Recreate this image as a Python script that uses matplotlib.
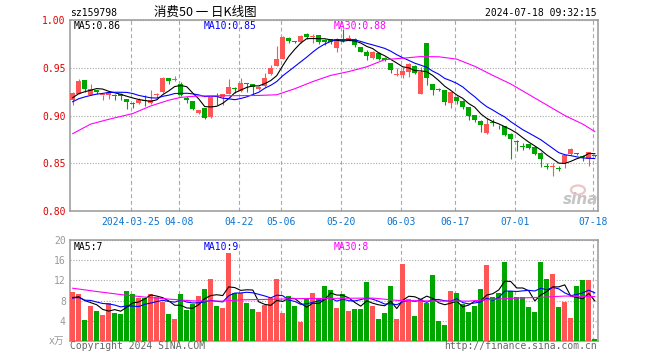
import matplotlib.pyplot as plt
import numpy as np
from matplotlib.patches import Ellipse

plt.rcParams["font.family"] = ["DejaVu Sans Mono", "Noto Sans CJK SC"]

# daily K-line of sz159798 (消费50)
date_labels = ["2024-03-25", "04-08", "04-22", "05-06", "05-20", "06-03", "06-17", "07-01", "07-18"]
date_pos = [10, 18, 28, 35, 45, 55, 64, 74, 87]

open_ = [0.9160, 0.9230, 0.9369, 0.9215, 0.9262, 0.9212, 0.9210, 0.9215, 0.9228, 0.9168,
         0.9130, 0.9133, 0.9158, 0.9134, 0.9215, 0.9249, 0.9389, 0.9375, 0.9326, 0.9186,
         0.9150, 0.9028, 0.9074, 0.8986, 0.9208, 0.9193, 0.9228, 0.9285, 0.9256, 0.9340,
         0.9326, 0.9274, 0.9310, 0.9430, 0.9520, 0.9596, 0.9815, 0.9775, 0.9770, 0.9850,
         0.9825, 0.9838, 0.9790, 0.9800, 0.9705, 0.9805, 0.9800, 0.9806, 0.9718, 0.9670,
         0.9605, 0.9650, 0.9598, 0.9547, 0.9425, 0.9423, 0.9460, 0.9515, 0.9230, 0.9758,
         0.9326, 0.9275, 0.9263, 0.9133, 0.9193, 0.9150, 0.9088, 0.9003, 0.8947, 0.8814,
         0.8925, 0.8895, 0.8889, 0.8810, 0.8735, 0.8680, 0.8698, 0.8670, 0.8610, 0.8465,
         0.8460, 0.8442, 0.8500, 0.8594, 0.8605, 0.8567, 0.8540, 0.8577]
high = [0.9250, 0.9378, 0.9372, 0.9335, 0.9270, 0.9217, 0.9260, 0.9228, 0.9232, 0.9170,
        0.9145, 0.9180, 0.9210, 0.9263, 0.9235, 0.9403, 0.9392, 0.9415, 0.9354, 0.9200,
        0.9155, 0.9060, 0.9080, 0.9195, 0.9235, 0.9225, 0.9386, 0.9295, 0.9388, 0.9345,
        0.9330, 0.9310, 0.9450, 0.9530, 0.9730, 0.9830, 0.9820, 0.9780, 0.9840, 0.9865,
        0.9853, 0.9840, 0.9800, 0.9805, 0.9810, 0.9905, 0.9840, 0.9810, 0.9720, 0.9690,
        0.9675, 0.9660, 0.9608, 0.9550, 0.9500, 0.9508, 0.9550, 0.9526, 0.9510, 0.9760,
        0.9330, 0.9285, 0.9265, 0.9250, 0.9200, 0.9160, 0.9090, 0.9010, 0.8950, 0.8976,
        0.8965, 0.8905, 0.8890, 0.8815, 0.8740, 0.8710, 0.8700, 0.8670, 0.8620, 0.8507,
        0.8507, 0.8472, 0.8590, 0.8663, 0.8610, 0.8587, 0.8620, 0.8587]
low = [0.9115, 0.9220, 0.9246, 0.9210, 0.9220, 0.9158, 0.9170, 0.9165, 0.9165, 0.9070,
       0.9080, 0.9120, 0.9100, 0.9123, 0.9180, 0.9240, 0.9326, 0.9360, 0.9200, 0.9133,
       0.9060, 0.9020, 0.8965, 0.8970, 0.9110, 0.9115, 0.9225, 0.9240, 0.9250, 0.9250,
       0.9220, 0.9265, 0.9300, 0.9425, 0.9515, 0.9590, 0.9760, 0.9760, 0.9760, 0.9800,
       0.9755, 0.9750, 0.9740, 0.9750, 0.9660, 0.9765, 0.9780, 0.9720, 0.9660, 0.9585,
       0.9590, 0.9580, 0.9575, 0.9450, 0.9415, 0.9397, 0.9403, 0.9430, 0.9220, 0.9320,
       0.9214, 0.9260, 0.9110, 0.9080, 0.9116, 0.9070, 0.8957, 0.8930, 0.8825, 0.8805,
       0.8890, 0.8855, 0.8785, 0.8540, 0.8628, 0.8640, 0.8650, 0.8583, 0.8460, 0.8437,
       0.8368, 0.8420, 0.8455, 0.8590, 0.8585, 0.8524, 0.8472, 0.8562]
close = [0.9240, 0.9362, 0.9281, 0.9281, 0.9245, 0.9215, 0.9245, 0.9205, 0.9200, 0.9144,
         0.9125, 0.9165, 0.9150, 0.9158, 0.9222, 0.9396, 0.9361, 0.9380, 0.9211, 0.9161,
         0.9063, 0.9056, 0.8975, 0.9193, 0.9195, 0.9220, 0.9300, 0.9280, 0.9337, 0.9333,
         0.9300, 0.9300, 0.9397, 0.9500, 0.9590, 0.9824, 0.9780, 0.9770, 0.9830, 0.9820,
         0.9830, 0.9770, 0.9770, 0.9770, 0.9800, 0.9780, 0.9815, 0.9736, 0.9666, 0.9620,
         0.9665, 0.9590, 0.9585, 0.9477, 0.9430, 0.9467, 0.9537, 0.9440, 0.9460, 0.9390,
         0.9267, 0.9272, 0.9140, 0.9245, 0.9150, 0.9088, 0.9000, 0.8950, 0.8898, 0.8912,
         0.8918, 0.8885, 0.8800, 0.8750, 0.8725, 0.8675, 0.8656, 0.8600, 0.8542, 0.8462,
         0.8465, 0.8437, 0.8585, 0.8650, 0.8600, 0.8563, 0.8615, 0.8573]
volume = [9.7, 9.3, 4.1, 6.9, 5.9, 5.1, 7.6, 5.6, 5.3, 9.9,
          9.3, 8.5, 8.6, 9.3, 8.8, 7.7, 5.3, 4.3, 9.3, 6.1,
          7.4, 8.9, 10.3, 12.3, 6.9, 6.6, 17.5, 9.6, 9.5, 7.5,
          6.4, 5.8, 7.1, 8.5, 12.3, 5.5, 8.9, 6.9, 3.7, 8.5,
          9.5, 8.5, 10.9, 10.1, 6.5, 9.3, 5.9, 6.4, 6.4, 11.7,
          7.0, 4.3, 5.5, 10.9, 4.4, 15.2, 8.3, 5.0, 8.3, 7.6,
          13.0, 3.9, 3.1, 9.9, 9.5, 7.4, 5.7, 7.0, 10.3, 15.1,
          8.7, 9.5, 15.7, 9.9, 8.7, 8.7, 6.7, 5.7, 15.7, 12.2,
          13.3, 6.7, 7.7, 4.5, 10.9, 12.0, 12.0, 0.3]

# sessions just before the first visible bar (needed to start MA5 / MA10)
pre_close = [0.905, 0.909, 0.912, 0.911, 0.914, 0.915, 0.918, 0.920, 0.916]
pre_volume = [8.0, 9.5, 7.5, 9.0, 8.0, 8.5, 7.8, 9.0, 8.0]

# MA30 curves at these bar positions
ma30_pos = [0, 3, 6, 8, 10, 13, 16, 18, 21, 26, 31, 34, 37, 40, 43, 46, 49, 52, 55,
            58, 61, 64, 67, 70, 73, 76, 79, 82, 85, 87]
ma30_val = [0.881, 0.891, 0.896, 0.899, 0.902, 0.910, 0.916, 0.919, 0.9205, 0.9207,
            0.921, 0.9217, 0.928, 0.9355, 0.942, 0.946, 0.951, 0.9585, 0.960, 0.9617,
            0.9615, 0.959, 0.9515, 0.942, 0.933, 0.922, 0.911, 0.900, 0.891, 0.8832]
vma30_pos = [0, 4, 8, 12, 16, 20, 25, 28, 33, 38, 44, 50, 54, 58, 62, 66, 70, 74, 78, 82, 87]
vma30_val = [10.45, 9.8, 9.2, 8.7, 8.3, 7.95, 7.9, 8.15, 8.25, 8.4, 8.45, 8.5, 8.05,
             7.95, 7.9, 7.9, 8.25, 8.5, 8.65, 8.9, 8.8]


def rolling_mean(prev, values, n):
    s = np.concatenate([prev, values])
    m = np.convolve(s, np.ones(n) / n, mode="valid")
    return m[-len(values):]


RED = "#ff5555"
GREEN = "#00a600"
GRID = "#a8a8a8"
W, H = 660, 360


def box(x0, y0, x1, y1):
    return [x0 / W, 1 - y1 / H, (x1 - x0) / W, (y1 - y0) / H]


fig = plt.figure(figsize=(W / 100, H / 100), dpi=100)
ax = fig.add_axes(box(70, 20, 597.5, 211))
axv = fig.add_axes(box(70, 240, 597.5, 341))

x = np.arange(len(close))
o, h, l, c = (np.array(v) for v in (open_, high, low, close))
cols = np.where(c >= o, RED, GREEN)

ax.vlines(x, l, h, colors=cols, lw=0.8, zorder=3)
ax.bar(x, np.maximum(np.abs(c - o), 0.0009), 0.78, bottom=np.minimum(o, c),
       color=cols, lw=0, zorder=3)

ax.plot(x, rolling_mean(pre_close, c, 5), color="black", lw=0.8, zorder=4)
ax.plot(x, rolling_mean(pre_close, c, 10), color="#0000ff", lw=0.8, zorder=4)
ax.plot(ma30_pos, ma30_val, color="#ff00ff", lw=0.8, zorder=4)

v = np.array(volume)
axv.bar(x, v, 0.8, color=cols, lw=0, zorder=3)
axv.plot(x, rolling_mean(pre_volume, v, 5), color="black", lw=0.8, zorder=4)
axv.plot(x, rolling_mean(pre_volume, v, 10), color="#0000ff", lw=0.8, zorder=4)
axv.plot(vma30_pos, vma30_val, color="#ff00ff", lw=0.8, zorder=4)

grid_x = np.array(date_pos) - 0.33
for a in (ax, axv):
    a.set_xlim(-0.45, 87.45)
    for s in a.spines.values():
        s.set_color("#999999")
        s.set_linewidth(1.1)
    a.set_xticks(grid_x)
    a.xaxis.grid(True, color=GRID, ls=(0, (3.5, 2.5)), lw=0.8)
    a.yaxis.grid(True, color=GRID, ls=(0, (1, 1.5)), lw=0.8)
    a.tick_params(length=0, labelsize=7)
    a.set_axisbelow(True)

ax.set_ylim(0.80, 1.00)
ax.set_yticks([0.80, 0.85, 0.90, 0.95, 1.00])
ax.set_yticklabels(["0.80", "0.85", "0.90", "0.95", "1.00"])
ax.tick_params(axis="y", colors="#e00000", pad=3)
ax.set_xticklabels(date_labels)
ax.tick_params(axis="x", colors="#0a74d0", pad=4)

axv.set_ylim(0, 20)
axv.set_yticks([0, 4, 8, 12, 16, 20])
axv.set_yticklabels(["", "4", "8", "12", "16", "20"])
axv.tick_params(axis="y", colors="#999999", pad=3)
axv.set_xticklabels([])


def put(px, py, s, **kw):
    kw.setdefault("fontsize", 7)
    kw.setdefault("va", "center")
    fig.text(px / W, 1 - py / H, s, **kw)


put(70, 13, "sz159798")
put(205, 12, "消费50 一 日K线图", ha="center", fontsize=9, family=["Noto Sans CJK SC"])
put(597, 12.5, "2024-07-18 09:32:15", ha="right")

put(74, 26, "MA5:0.86", color="black")
put(204, 26, "MA10:0.85", color="#0000ff")
put(334, 26, "MA30:0.88", color="#ff00ff")
put(74, 247, "MA5:7", color="black")
put(204, 247, "MA10:9", color="#0000ff")
put(334, 247, "MA30:8", color="#ff00ff")

put(64, 341, "x万", ha="right", color="#999999", family=["DejaVu Sans Mono", "Noto Sans CJK SC"])
put(70, 346, "Copyright 2024 SINA.COM", color="#666666")
put(597, 346, "http://finance.sina.com.cn", ha="right", color="#666666")

# sina watermark (eye logo + word)
fig.patches.append(Ellipse((578 / W, 1 - 190 / H), 14 / W, 9 / H, transform=fig.transFigure,
                           fill=False, ec="#e8b8b8", lw=1.6, alpha=0.8))
put(581, 200, "sina", ha="center", fontsize=11, color="#c4c4c4",
    family=["DejaVu Sans"], weight="bold", style="italic")

fig.savefig("out.png", dpi=100)
